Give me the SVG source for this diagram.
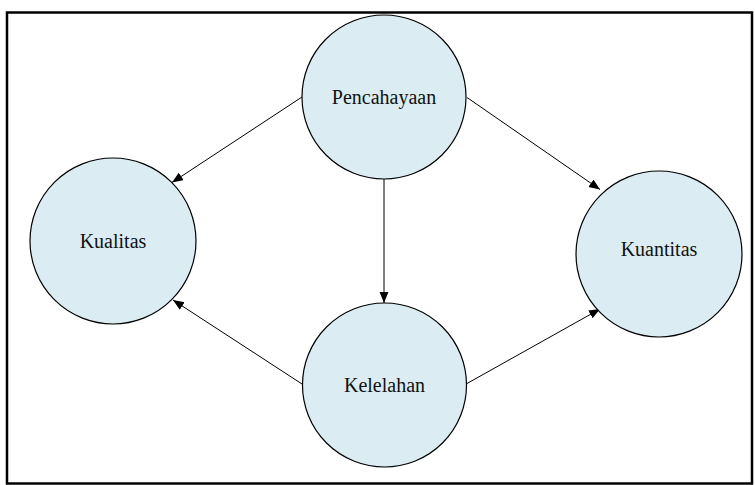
<svg xmlns="http://www.w3.org/2000/svg" width="755" height="485" viewBox="0 0 755 485">
<style>
.node{fill:#DBEDF3;stroke:#000;stroke-width:1.2}
.lbl{font-family:"Liberation Serif","Times New Roman",serif;font-size:20px;fill:#111;text-anchor:middle}
.edge{stroke:#000;stroke-width:1;fill:none;marker-end:url(#arr)}
</style>
<defs>
<marker id="arr" markerUnits="userSpaceOnUse" markerWidth="12" markerHeight="10" refX="11" refY="4.5" orient="auto">
<path d="M0,0 L11,4.5 L0,9 z" fill="#000"/>
</marker>
</defs>
<rect x="0" y="0" width="755" height="485" fill="#fff"/>
<rect x="7" y="12.5" width="745" height="471" fill="none" stroke="#000" stroke-width="2.5"/>
<g id="connectors">
<line class="edge" x1="302" y1="97" x2="172" y2="182.5"/>
<line class="edge" x1="467" y1="97.5" x2="600" y2="189.5"/>
<line class="edge" x1="384" y1="179" x2="384" y2="303"/>
<line class="edge" x1="302" y1="384" x2="173" y2="300"/>
<line class="edge" x1="467" y1="383.5" x2="600" y2="309"/>
</g>
<g id="pencahayaan">
<circle class="node" cx="384" cy="97" r="82"/>
<text class="lbl" x="384" y="104">Pencahayaan</text>
</g>
<g id="kualitas">
<circle class="node" cx="113" cy="241" r="83"/>
<text class="lbl" x="113" y="248">Kualitas</text>
</g>
<g id="kuantitas">
<circle class="node" cx="659" cy="254" r="83"/>
<text class="lbl" x="659" y="256">Kuantitas</text>
</g>
<g id="kelelahan">
<circle class="node" cx="384.5" cy="385" r="82"/>
<text class="lbl" x="384.5" y="392">Kelelahan</text>
</g>
</svg>
